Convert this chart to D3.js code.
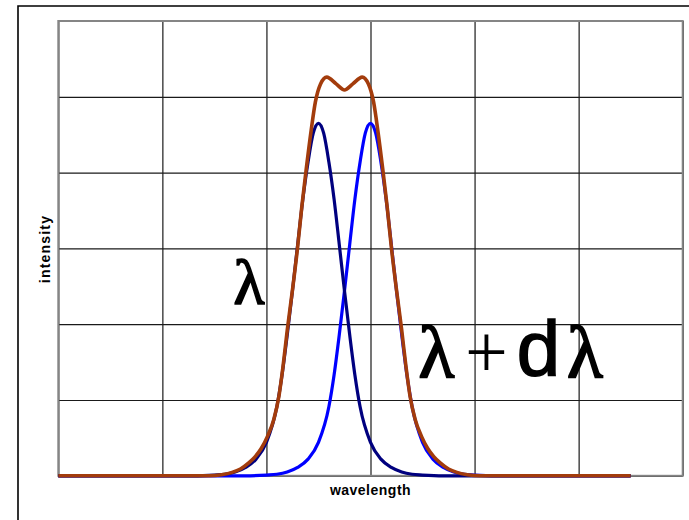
<!DOCTYPE html>
<html>
<head>
<meta charset="utf-8">
<script src="https://cdn.jsdelivr.net/npm/d3@7"></script>
<style>
	body { margin: 0; background: #fff; }
	svg { display: block; }
</style>
</head>
<body>
<svg id="svg1" width="689" height="520"></svg>
<script>
// grid lines (no tick labels in the picture)
xTicks = [0, 1, 2, 3, 4, 5, 6];
yTicks = [0, 1, 2, 3, 4, 5, 6];

// line for lambda (dark blue)
navyX = [0, 1.3, 1.5, 1.6, 1.7, 1.8, 1.9, 2.0, 2.1, 2.15, 2.2, 2.25, 2.3, 2.35, 2.4, 2.45, 2.5,
	2.55, 2.6, 2.65, 2.7, 2.75, 2.8, 2.85, 2.9, 3.0, 3.1, 3.2, 3.3, 3.4, 3.5, 3.7, 5.5];
navyY = [0, 0, 0.01, 0.02, 0.05, 0.11, 0.22, 0.44, 0.91, 1.33, 1.86, 2.44, 3.05, 3.65, 4.14, 4.52, 4.65,
	4.52, 4.14, 3.65, 3.05, 2.44, 1.86, 1.33, 0.91, 0.44, 0.22, 0.11, 0.05, 0.02, 0.01, 0, 0];

// line for lambda + d lambda (blue)
blueX = [0, 1.8, 2.0, 2.1, 2.2, 2.3, 2.4, 2.5, 2.6, 2.65, 2.7, 2.75, 2.8, 2.85, 2.9, 2.95, 3.0,
	3.05, 3.1, 3.15, 3.2, 3.25, 3.3, 3.35, 3.4, 3.5, 3.6, 3.7, 3.8, 3.9, 4.0, 4.2, 5.5];
blueY = [0, 0, 0.01, 0.02, 0.05, 0.11, 0.22, 0.44, 0.91, 1.33, 1.86, 2.44, 3.05, 3.65, 4.14, 4.52, 4.65,
	4.52, 4.14, 3.65, 3.05, 2.44, 1.86, 1.33, 0.91, 0.44, 0.22, 0.11, 0.05, 0.02, 0.01, 0, 0];

// sum of both (brown)
sumX = [0, 1.45, 1.57, 1.67, 1.75, 1.83, 1.89, 1.95, 2.01, 2.07, 2.12, 2.16, 2.2, 2.25, 2.3, 2.34, 2.38,
	2.43, 2.47, 2.52, 2.58, 2.67, 2.75, 2.83, 2.92, 2.98, 3.03, 3.07, 3.12, 3.16, 3.2, 3.25, 3.3,
	3.34, 3.38, 3.43, 3.49, 3.55, 3.61, 3.67, 3.75, 3.83, 3.93, 4.05, 5.5];
sumY = [0, 0, 0.015, 0.045, 0.09, 0.17, 0.25, 0.36, 0.52, 0.74, 1.05, 1.45, 1.92, 2.45, 3.02, 3.55, 4.02,
	4.56, 4.93, 5.17, 5.26, 5.17, 5.09, 5.17, 5.26, 5.17, 4.93, 4.56, 4.02, 3.55, 3.02, 2.45, 1.92,
	1.45, 1.05, 0.74, 0.52, 0.36, 0.25, 0.17, 0.09, 0.045, 0.015, 0, 0];

xLabel = "wavelength";
yLabel = "intensity";

settings = {
	left: 58.3,
	right: 682.7,
	top: 21,
	bottom: 475.8
}

function show_chart() {
	var svg = d3.select("#svg1");

	var x = d3.scaleLinear().domain([0, 6]).range([settings.left, settings.right]);
	var y = d3.scaleLinear().domain([0, 6]).range([settings.bottom, settings.top]);

	// outer frame, right and bottom edges are outside the picture
	svg.append("path")
		.attr("d", "M18,520 L18,6 L689,6")
		.attr("fill", "none")
		.attr("stroke", "#000")
		.attr("stroke-width", 1.6);

	// grid
	var gx = svg.append("g")
		.attr("transform", "translate(0," + settings.bottom + ")")
		.call(d3.axisBottom(x).tickValues(xTicks).tickFormat("").tickSize(-(settings.bottom - settings.top)));
	var gy = svg.append("g")
		.attr("transform", "translate(" + settings.left + ",0)")
		.call(d3.axisLeft(y).tickValues(yTicks).tickFormat("").tickSize(-(settings.right - settings.left)));
	[gx, gy].forEach(g => {
		g.select(".domain").remove();
		g.selectAll(".tick line").attr("stroke", "#1a1a1a").attr("stroke-width", 1.2);
	});

	// plot border
	svg.append("rect")
		.attr("x", settings.left)
		.attr("y", settings.top)
		.attr("width", settings.right - settings.left)
		.attr("height", settings.bottom - settings.top)
		.attr("fill", "none")
		.attr("stroke", "#858585")
		.attr("stroke-width", 2);

	var line = d3.line()
		.x(d => x(d[0]))
		.y(d => y(d[1]))
		.curve(d3.curveMonotoneX);

	var series = [
		{ xs: blueX, ys: blueY, color: "#0000ff", w: 3.2 },
		{ xs: navyX, ys: navyY, color: "#00007f", w: 3.2 },
		{ xs: sumX, ys: sumY, color: "#a33c0c", w: 3.6 }
	];

	series.forEach(s => {
		svg.append("path")
			.datum(d3.zip(s.xs, s.ys))
			.attr("d", line)
			.attr("fill", "none")
			.attr("stroke", s.color)
			.attr("stroke-width", s.w)
			.attr("stroke-linejoin", "round");
	});

	// axis titles
	svg.append("text")
		.attr("x", 370.5)
		.attr("y", 495)
		.attr("text-anchor", "middle")
		.style("font-family", "'Liberation Sans', Arial, sans-serif")
		.style("font-weight", "bold")
		.style("font-size", "14px")
		.style("letter-spacing", "0.5px")
		.text(xLabel);

	svg.append("text")
		.attr("transform", "translate(50,249) rotate(-90)")
		.attr("text-anchor", "middle")
		.style("font-family", "'Liberation Sans', Arial, sans-serif")
		.style("font-weight", "bold")
		.style("font-size", "14px")
		.style("letter-spacing", "1.2px")
		.text(yLabel);

	// big annotations
	var serif = "'Liberation Serif', 'Times New Roman', serif";
	var sans = "'Liberation Sans', Arial, sans-serif";
	var notes = [
		{ t: "λ", cx: 249, by: 304, size: 64, f: serif, s: 1.6 },
		{ t: "λ", cx: 436.5, by: 377, size: 74, f: serif, s: 1.8 },
		{ t: "+", cx: 486.5, by: 377, size: 76, f: serif, s: 0 },
		{ t: "d", cx: 538.5, by: 376, size: 78, f: sans, s: 1.6 },
		{ t: "λ", cx: 585, by: 377, size: 74, f: serif, s: 1.8 }
	];
	svg.selectAll("text.note").data(notes).enter()
		.append("text")
		.attr("class", "note")
		.attr("x", d => d.cx)
		.attr("y", d => d.by)
		.attr("text-anchor", "middle")
		.attr("stroke", "#000")
		.attr("stroke-width", d => d.s)
		.style("font-family", d => d.f)
		.style("font-size", d => d.size + "px")
		.text(d => d.t);
}

show_chart();
</script>
</body>
</html>
